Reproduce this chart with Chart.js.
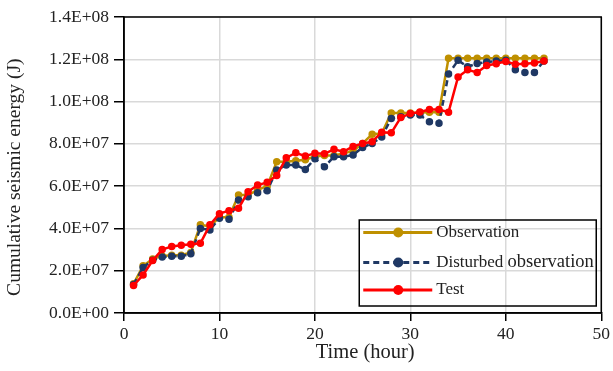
<!DOCTYPE html>
<html>
<head>
<meta charset="utf-8">
<script src="https://cdn.jsdelivr.net/npm/chart.js@4.4.1/dist/chart.umd.min.js"></script>
<style>
  html, body { margin: 0; padding: 0; background: #fff; }
  #wrap { width: 613px; height: 371px; position: relative; }
</style>
</head>
<body>
<div id="wrap"><canvas id="myChart"></canvas></div>
<script>
var hours = [1, 2, 3, 4, 5, 6, 7, 8, 9, 10, 11, 12, 13, 14, 15, 16, 17, 18, 19, 20, 21, 22,
  23, 24, 25, 26, 27, 28, 29, 30, 31, 32, 33, 34, 35, 36, 37, 38, 39, 40, 41, 42, 43, 44];

var observation = [1.38e7, 2.23e7, 2.55e7, 2.70e7, 2.73e7, 2.73e7, 2.86e7, 4.17e7, 4.10e7, 4.53e7, 4.53e7,
  5.58e7, 5.58e7, 5.82e7, 6.00e7, 7.15e7, 7.15e7, 7.20e7, 7.25e7, 7.40e7, 7.45e7, 7.45e7,
  7.55e7, 7.67e7, 8.02e7, 8.46e7, 8.49e7, 9.46e7, 9.46e7, 9.46e7, 9.48e7, 9.50e7, 9.50e7,
  1.205e8, 1.205e8, 1.205e8, 1.205e8, 1.205e8, 1.205e8, 1.205e8, 1.205e8, 1.205e8, 1.205e8, 1.205e8];

var disturbed = [1.35e7, 2.15e7, 2.50e7, 2.65e7, 2.68e7, 2.68e7, 2.80e7, 4.00e7, 3.93e7, 4.48e7, 4.43e7,
  5.34e7, 5.50e7, 5.69e7, 5.78e7, 6.76e7, 7.00e7, 7.00e7, 6.79e7, 7.30e7, 6.92e7, 7.39e7,
  7.39e7, 7.47e7, 7.83e7, 8.02e7, 8.33e7, 9.20e7, 9.28e7, 9.36e7, 9.36e7, 9.04e7, 8.98e7,
  1.13e8, 1.195e8, 1.165e8, 1.18e8, 1.187e8, 1.192e8, 1.195e8, 1.151e8, 1.138e8, 1.138e8, 1.192e8];

var test = [1.30e7, 1.80e7, 2.48e7, 3.00e7, 3.15e7, 3.20e7, 3.25e7, 3.30e7, 4.17e7, 4.70e7, 4.84e7,
  4.95e7, 5.74e7, 6.05e7, 6.18e7, 6.50e7, 7.34e7, 7.58e7, 7.42e7, 7.56e7, 7.53e7, 7.74e7,
  7.63e7, 7.88e7, 8.02e7, 8.10e7, 8.55e7, 8.52e7, 9.25e7, 9.43e7, 9.51e7, 9.62e7, 9.62e7,
  9.50e7, 1.116e8, 1.15e8, 1.138e8, 1.171e8, 1.179e8, 1.19e8, 1.176e8, 1.179e8, 1.182e8, 1.192e8];

var seriesNames = ["Observation", "Disturbed observation", "Test"];
var xTickLabels = ["0", "10", "20", "30", "40", "50"];
var yTickLabels = ["0.0E+00", "2.0E+07", "4.0E+07", "6.0E+07", "8.0E+07",
  "1.0E+08", "1.2E+08", "1.4E+08"];

var serif = "'Liberation Serif', 'Times New Roman', serif";

function pts(ys) {
  return hours.map(function (h, i) { return {x: h, y: ys[i]}; });
}

// black box round the plot area
var frame = {
  id: 'frame',
  beforeDatasetsDraw: function (chart) {
    var a = chart.chartArea, ctx = chart.ctx;
    ctx.save();
    ctx.strokeStyle = '#000';
    ctx.lineWidth = 1.5;
    ctx.strokeRect(a.left, a.top, a.right - a.left, a.bottom - a.top);
    ctx.restore();
  }
};

// legend box in the lower right corner of the plot
var boxLegend = {
  id: 'boxLegend',
  afterDraw: function (chart) {
    var a = chart.chartArea, ctx = chart.ctx;
    var w = 237, h = 86;
    var x0 = a.right - 5 - w, y0 = a.bottom - 7 - h;
    ctx.save();
    ctx.strokeStyle = '#000';
    ctx.lineWidth = 1.5;
    ctx.strokeRect(x0, y0, w, h);
    var rows = [12.5, 42.5, 70];
    chart.data.datasets.forEach(function (ds, i) {
      var y = y0 + rows[i];
      ctx.strokeStyle = ds.borderColor;
      ctx.lineWidth = 3;
      ctx.setLineDash(ds.borderDash || []);
      ctx.beginPath();
      ctx.moveTo(x0 + 4, y);
      ctx.lineTo(x0 + 73, y);
      ctx.stroke();
      ctx.setLineDash([]);
      ctx.fillStyle = ds.pointBackgroundColor;
      ctx.beginPath();
      ctx.arc(x0 + 39, y, 5, 0, Math.PI * 2);
      ctx.fill();
      ctx.fillStyle = '#222';
      ctx.textBaseline = 'middle';
      ctx.textAlign = 'left';
      // the second label mixes two type sizes in the source figure
      var words = ds.label.split(' ');
      if (words.length > 1) {
        ctx.font = '17px ' + serif;
        var first = words[0] + ' ';
        ctx.fillText(first, x0 + 77, y);
        var dx = ctx.measureText(first).width;
        ctx.font = '18.5px ' + serif;
        ctx.fillText(words.slice(1).join(' '), x0 + 77 + dx, y);
      } else {
        ctx.font = '17px ' + serif;
        ctx.fillText(ds.label, x0 + 77, y);
      }
    });
    ctx.restore();
  }
};

new Chart("myChart", {
  type: "line",
  data: {
    datasets: [{
      label: seriesNames[0],
      data: pts(observation),
      borderColor: "#BF9000",
      backgroundColor: "#BF9000",
      pointBackgroundColor: "#BF9000",
      pointBorderColor: "#BF9000",
      borderWidth: 2.5,
      pointRadius: 2.5,
      order: 2
    }, {
      label: seriesNames[1],
      data: pts(disturbed),
      borderColor: "#1F3864",
      backgroundColor: "#1F3864",
      pointBackgroundColor: "#1F3864",
      pointBorderColor: "#1F3864",
      borderDash: [6, 4],
      borderWidth: 2.5,
      pointRadius: 2.5,
      order: 1
    }, {
      label: seriesNames[2],
      data: pts(test),
      borderColor: "#FF0000",
      backgroundColor: "#FF0000",
      pointBackgroundColor: "#FF0000",
      pointBorderColor: "#FF0000",
      borderWidth: 2.5,
      pointRadius: 2.5,
      order: 0
    }]
  },
  options: {
    responsive: true,
    maintainAspectRatio: false,
    animation: false,
    layout: {padding: {left: 0, right: 10, top: 17, bottom: 0}},
    plugins: {
      legend: {display: false},
      tooltip: {enabled: false}
    },
    scales: {
      x: {
        type: "linear",
        min: 0,
        max: 50,
        ticks: {
          stepSize: 10,
          padding: 3,
          color: "#222",
          font: {family: serif, size: 17.5},
          callback: function (v, i) { return xTickLabels[i]; }
        },
        grid: {color: "#d9d9d9", lineWidth: 1.5, tickColor: "#000", tickLength: 8},
        border: {color: "#000", width: 1.5},
        title: {
          display: true,
          text: " Time (hour)",
          color: "#222",
          font: {family: serif, size: 20.5},
          padding: {top: 0, bottom: 6}
        },
        afterFit: function (s) { s.height = 58; }
      },
      y: {
        min: 0,
        max: 1.4e8,
        ticks: {
          stepSize: 2e7,
          padding: 5,
          color: "#222",
          font: {family: serif, size: 17.5},
          callback: function (v, i) { return yTickLabels[i]; }
        },
        grid: {color: "#d9d9d9", lineWidth: 1.5, tickColor: "#000", tickLength: 10},
        border: {color: "#000", width: 1.5},
        title: {
          display: true,
          text: "Cumulative seismic energy (J)     ",
          color: "#222",
          font: {family: serif, size: 19.5},
          padding: {top: 3, bottom: 0}
        },
        afterFit: function (s) { s.width = 124; }
      }
    }
  },
  plugins: [frame, boxLegend]
});
</script>
</body>
</html>
